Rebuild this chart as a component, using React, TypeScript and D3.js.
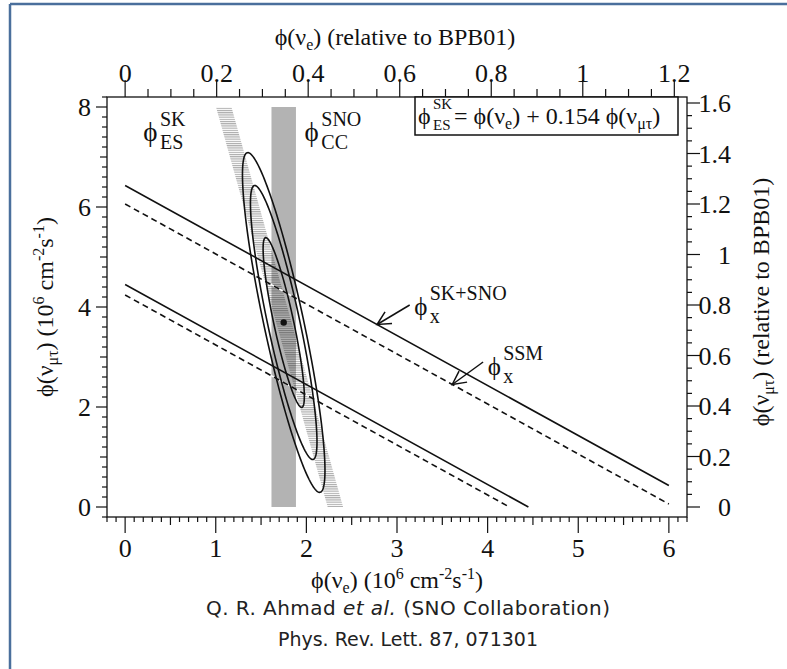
import React from "react";
import * as d3 from "d3";

// ---- chart data -------------------------------------------------------
const xDomain: [number, number] = [-0.2, 6.2];
const yDomain: [number, number] = [-0.2, 8.2];
const xMajorTicks = [0, 1, 2, 3, 4, 5, 6];
const yMajorTicks = [0, 2, 4, 6, 8];
const topRelTicks = [0, 0.2, 0.4, 0.6, 0.8, 1, 1.2];
const rightRelTicks = [0, 0.2, 0.4, 0.6, 0.8, 1, 1.2, 1.4, 1.6];
const bpb01Flux = 5.05; // BPB01 8B flux, 10^6 cm^-2 s^-1

// SNO charged-current band: phi(nu_e)
const ccFlux = 1.75;
const ccBandHalf = 0.135;
// Super-Kamiokande elastic scattering band: phi(nu_e) + 0.154 phi(nu_mutau)
const esFlux = 2.32;
const esBandHalf = 0.085;
const esMuTauWeight = 0.154;
const bandYRange: [number, number] = [0, 8];

// best fit point and joint confidence contours (68%, 95%, 99%)
const bestFitPhiE = 1.75;
const bestFitPhiMuTau = 3.69;
const ellipseSigmaCC = 0.15;
const ellipseSigmaES = 0.085;
const contourLevels = [2.3, 5.99, 9.21];

// total 8B flux bands (phi_e + phi_mutau = const)
const totalSkSno = [4.45, 6.43];
const totalSsm = [4.24, 6.06];
const totalLineXMax = 6;

// ---- layout ----------------------------------------------------------
const W = 787;
const H = 669;
const frame = { left: 107, right: 687, top: 97, bottom: 517 };
const serif = "Liberation Serif, Times New Roman, DejaVu Serif, serif";
const sans = "DejaVu Sans, Noto Sans, sans-serif";
const PHI = "\u03D5";

const x = d3.scaleLinear().domain(xDomain).range([frame.left, frame.right]);
const y = d3.scaleLinear().domain(yDomain).range([frame.bottom, frame.top]);

const near = (a: number, b: number) => Math.abs(a - b) < 1e-6;
const fmt = (v: number) => d3.format("~g")(+v.toFixed(2));

const xMinor = d3.range(-0.2, 6.2 + 1e-9, 0.1).filter((v) => !xMajorTicks.some((m) => near(m, v)));
const yMinor = d3.range(-0.2, 8.2 + 1e-9, 0.2).filter((v) => !yMajorTicks.some((m) => near(m, v)));
const topMinor = d3.range(0, 1.23, 0.05).filter((v) => !topRelTicks.some((m) => near(m, v)));
const rightMinor = d3.range(0, 1.63, 0.05).filter((v) => !rightRelTicks.some((m) => near(m, v)));

function ellipsePath(level: number): string {
  const pts: [number, number][] = d3.range(0, 361, 2).map((deg) => {
    const t = (deg * Math.PI) / 180;
    const u = Math.sqrt(level) * Math.cos(t);
    const w = Math.sqrt(level) * Math.sin(t);
    const a = ellipseSigmaCC * u;
    const b = (ellipseSigmaES * w - a) / esMuTauWeight;
    return [x(bestFitPhiE + a), y(bestFitPhiMuTau + b)];
  });
  return d3.line().curve(d3.curveLinearClosed)(pts) || "";
}

function totalLine(total: number) {
  const xe = Math.min(totalLineXMax, total);
  return { x1: x(0), y1: y(total), x2: x(xe), y2: y(total - xe) };
}

function Arrow({ tip, tail }: { tip: [number, number]; tail: [number, number] }) {
  const tx = x(tip[0]);
  const ty = y(tip[1]);
  const sx = x(tail[0]);
  const sy = y(tail[1]);
  const ang = Math.atan2(sy - ty, sx - tx);
  const len = 15;
  const spread = (27 * Math.PI) / 180;
  const a1 = [tx + len * Math.cos(ang - spread), ty + len * Math.sin(ang - spread)];
  const a2 = [tx + len * Math.cos(ang + spread), ty + len * Math.sin(ang + spread)];
  return (
    <g stroke="#111" strokeWidth={1.5} fill="none">
      <line x1={sx} y1={sy} x2={tx} y2={ty} />
      <polyline points={`${a1[0]},${a1[1]} ${tx},${ty} ${a2[0]},${a2[1]}`} />
    </g>
  );
}

function PhiLabel({ at, sup, sub, size = 27 }: { at: [number, number]; sup: string; sub: string; size?: number }) {
  const px = x(at[0]);
  const py = y(at[1]);
  const off = size * 0.62;
  return (
    <g style={{ fontFamily: serif }} fill="#111">
      <text x={px} y={py} fontSize={size}>{PHI}</text>
      <text x={px + off} y={py - 15} fontSize={20}>{sup}</text>
      <text x={px + off} y={py + 8} fontSize={20}>{sub}</text>
    </g>
  );
}

export default function App() {
  const esPoly = [
    [x(esFlux - esBandHalf - esMuTauWeight * bandYRange[0]), y(bandYRange[0])],
    [x(esFlux + esBandHalf - esMuTauWeight * bandYRange[0]), y(bandYRange[0])],
    [x(esFlux + esBandHalf - esMuTauWeight * bandYRange[1]), y(bandYRange[1])],
    [x(esFlux - esBandHalf - esMuTauWeight * bandYRange[1]), y(bandYRange[1])],
  ]
    .map((p) => p.join(","))
    .join(" ");

  const tickStroke = { stroke: "#111", strokeWidth: 1.2 };
  const serifStyle = { fontFamily: serif };

  return (
    <svg width={W} height={H} style={{ display: "block", position: "absolute", left: 0, top: 0, background: "#fff" }}>
      <defs>
        <pattern id="esHatch" width={4} height={2.2} patternUnits="userSpaceOnUse">
          <rect width={4} height={1.1} fill="#a9a9a9" />
        </pattern>
        <clipPath id="plotClip">
          <rect x={frame.left} y={frame.top} width={frame.right - frame.left} height={frame.bottom - frame.top} />
        </clipPath>
      </defs>

      {/* page border */}
      <line x1={10} y1={4} x2={W} y2={4} stroke="#4a6f9c" strokeWidth={2.5} />
      <line x1={10} y1={4} x2={10} y2={H} stroke="#4a6f9c" strokeWidth={2.5} />

      {/* bands */}
      <g clipPath="url(#plotClip)">
        <rect
          x={x(ccFlux - ccBandHalf)}
          y={y(bandYRange[1])}
          width={x(ccFlux + ccBandHalf) - x(ccFlux - ccBandHalf)}
          height={y(bandYRange[0]) - y(bandYRange[1])}
          fill="#b3b3b3"
        />
        <polygon points={esPoly} fill="url(#esHatch)" style={{ mixBlendMode: "multiply" }} />
      </g>

      {/* total flux lines */}
      <g clipPath="url(#plotClip)">
        {totalSkSno.map((t) => {
          const l = totalLine(t);
          return <line key={`s${t}`} {...l} stroke="#111" strokeWidth={1.6} />;
        })}
        {totalSsm.map((t) => {
          const l = totalLine(t);
          return (
            <g key={`d${t}`}>
              <line {...l} stroke="#fff" strokeWidth={1.6} />
              <line {...l} stroke="#111" strokeWidth={1.6} strokeDasharray="6,4" />
            </g>
          );
        })}
      </g>

      {/* confidence contours */}
      {contourLevels.map((c) => (
        <path key={c} d={ellipsePath(c)} fill="none" stroke="#111" strokeWidth={1.6} />
      ))}
      <circle cx={x(bestFitPhiE)} cy={y(bestFitPhiMuTau)} r={3.2} fill="#111" />

      {/* frame */}
      <rect
        x={frame.left}
        y={frame.top}
        width={frame.right - frame.left}
        height={frame.bottom - frame.top}
        fill="none"
        stroke="#111"
        strokeWidth={1.3}
      />

      {/* bottom axis */}
      <g {...tickStroke}>
        {xMajorTicks.map((v) => (
          <line key={v} x1={x(v)} x2={x(v)} y1={frame.bottom} y2={frame.bottom + 16} />
        ))}
        {xMinor.map((v) => (
          <line key={v} x1={x(v)} x2={x(v)} y1={frame.bottom} y2={frame.bottom + (near(v % 1, 0.5) ? 8 : 5)} />
        ))}
      </g>
      <g style={serifStyle} fontSize={26} fill="#111" textAnchor="middle">
        {xMajorTicks.map((v) => (
          <text key={v} x={x(v)} y={557}>{fmt(v)}</text>
        ))}
      </g>

      {/* top axis (relative to BPB01) */}
      <g {...tickStroke}>
        {topRelTicks.map((v) => (
          <line key={v} x1={x(v * bpb01Flux)} x2={x(v * bpb01Flux)} y1={frame.top} y2={frame.top - 17} />
        ))}
        {topMinor.map((v) => (
          <line key={v} x1={x(v * bpb01Flux)} x2={x(v * bpb01Flux)} y1={frame.top} y2={frame.top - 8} />
        ))}
      </g>
      <g style={serifStyle} fontSize={26} fill="#111" textAnchor="middle">
        {topRelTicks.map((v) => (
          <text key={v} x={x(v * bpb01Flux)} y={82}>{fmt(v)}</text>
        ))}
      </g>

      {/* left axis */}
      <g {...tickStroke}>
        {yMajorTicks.map((v) => (
          <line key={v} x1={frame.left - 11} x2={frame.left} y1={y(v)} y2={y(v)} />
        ))}
        {yMinor.map((v) => (
          <line key={v} x1={frame.left - (near(v % 2, 1) ? 7 : 5)} x2={frame.left} y1={y(v)} y2={y(v)} />
        ))}
      </g>
      <g style={serifStyle} fontSize={26} fill="#111" textAnchor="end">
        {yMajorTicks.map((v) => (
          <text key={v} x={91} y={y(v)} dy="0.35em">{fmt(v)}</text>
        ))}
      </g>

      {/* right axis (relative to BPB01) */}
      <g {...tickStroke}>
        {rightRelTicks.map((v) => (
          <line key={v} x1={frame.right} x2={frame.right + 13} y1={y(v * bpb01Flux)} y2={y(v * bpb01Flux)} />
        ))}
        {rightMinor.map((v) => (
          <line key={v} x1={frame.right} x2={frame.right + 5} y1={y(v * bpb01Flux)} y2={y(v * bpb01Flux)} />
        ))}
      </g>
      <g style={serifStyle} fontSize={26} fill="#111" textAnchor="end">
        {rightRelTicks.map((v) => (
          <text key={v} x={731} y={y(v * bpb01Flux)} dy="0.35em">{fmt(v)}</text>
        ))}
      </g>

      {/* axis titles */}
      <text x={395} y={45} style={serifStyle} fontSize={24} fill="#111" textAnchor="middle">
        {PHI}(ν<tspan dy={5} fontSize={16}>e</tspan>
        <tspan dy={-5}>) (relative to BPB01)</tspan>
      </text>
      <text x={397} y={588} style={serifStyle} fontSize={24} fill="#111" textAnchor="middle">
        {PHI}(ν<tspan dy={5} fontSize={16}>e</tspan>
        <tspan dy={-5}>) (10</tspan>
        <tspan dy={-9} fontSize={16}>6</tspan>
        <tspan dy={9}> cm</tspan>
        <tspan dy={-9} fontSize={16}>-2</tspan>
        <tspan dy={9}>s</tspan>
        <tspan dy={-9} fontSize={16}>-1</tspan>
        <tspan dy={9}>)</tspan>
      </text>
      <text transform={`translate(53,307) rotate(-90)`} style={serifStyle} fontSize={24} fill="#111" textAnchor="middle">
        {PHI}(ν<tspan dy={5} fontSize={16}>μτ</tspan>
        <tspan dy={-5}>) (10</tspan>
        <tspan dy={-9} fontSize={16}>6</tspan>
        <tspan dy={9}> cm</tspan>
        <tspan dy={-9} fontSize={16}>-2</tspan>
        <tspan dy={9}>s</tspan>
        <tspan dy={-9} fontSize={16}>-1</tspan>
        <tspan dy={9}>)</tspan>
      </text>
      <text transform={`translate(769,302) rotate(-90)`} style={serifStyle} fontSize={24} fill="#111" textAnchor="middle">
        {PHI}(ν<tspan dy={5} fontSize={16}>μτ</tspan>
        <tspan dy={-5}>) (relative to BPB01)</tspan>
      </text>

      {/* legend box */}
      <rect x={415} y={frame.top} width={263} height={38} fill="#fff" stroke="#111" strokeWidth={1.5} />
      <g style={serifStyle} fill="#111">
        <text x={418} y={124} fontSize={24}>{PHI}</text>
        <text x={433} y={109} fontSize={15}>SK</text>
        <text x={433} y={130} fontSize={15}>ES</text>
        <text x={454} y={124} fontSize={24}>
          = {PHI}(ν<tspan dy={5} fontSize={16}>e</tspan>
          <tspan dy={-5}>) + 0.154 {PHI}(ν</tspan>
          <tspan dy={5} fontSize={16}>μτ</tspan>
          <tspan dy={-5}>)</tspan>
        </text>
      </g>

      {/* band labels */}
      <PhiLabel at={[0.2, 7.32]} sup="SK" sub="ES" />
      <PhiLabel at={[1.98, 7.32]} sup="SNO" sub="CC" />

      {/* total flux annotations */}
      <Arrow tip={[2.78, 6.43 - 2.78]} tail={[3.14, 4.04]} />
      <PhiLabel at={[3.19, 3.84]} sup="SK+SNO" sub="x" size={25} />
      <Arrow tip={[3.61, 6.06 - 3.61]} tail={[3.95, 2.9]} />
      <PhiLabel at={[4.0, 2.64]} sup="SSM" sub="x" size={25} />

      {/* citation */}
      <g style={{ fontFamily: sans }} fill="#222" textAnchor="middle">
        <text x={408} y={615} fontSize={20} textLength={404} lengthAdjust="spacing">
          Q. R. Ahmad <tspan fontStyle="italic">et al.</tspan> (SNO Collaboration)
        </text>
        <text x={408} y={646} fontSize={19} textLength={260} lengthAdjust="spacing">
          Phys. Rev. Lett. 87, 071301
        </text>
      </g>
    </svg>
  );
}
